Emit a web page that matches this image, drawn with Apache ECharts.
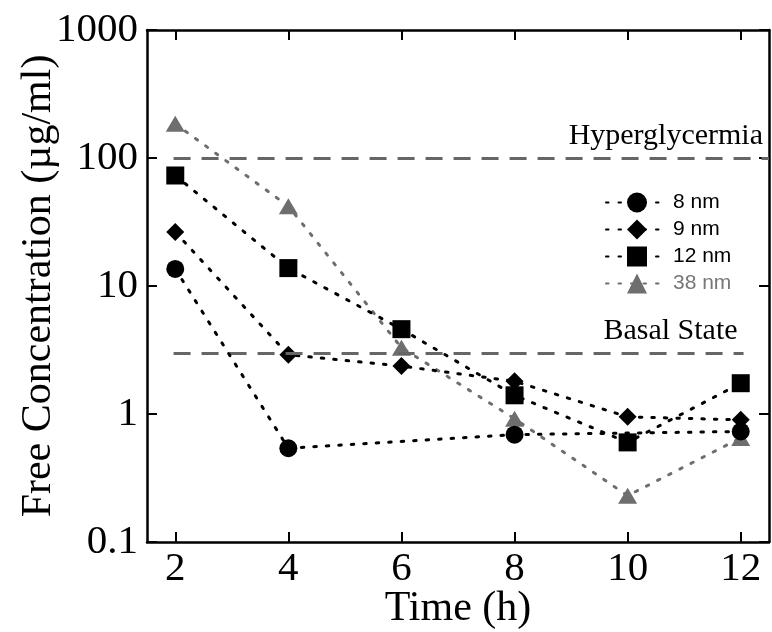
<!DOCTYPE html>
<html>
<head>
<meta charset="utf-8">
<script src="https://cdn.jsdelivr.net/npm/echarts@6/dist/echarts.min.js"></script>
<style>html,body{margin:0;padding:0;background:#fff}#c{width:772px;height:632px}</style>
</head>
<body>
<div id="c"></div>
<script>
const hours = [2, 4, 6, 8, 10, 12];
const xTicks = [2, 4, 6, 8, 10, 12];
const yTicks = [0.1, 1, 10, 100, 1000];
const nm8 = [13.6, 0.54, null, 0.69, null, 0.73];
const nm9 = [26.4, 2.9, 2.37, 1.8, 0.95, 0.9];
const nm12 = [73, 13.8, 4.6, 1.4, 0.6, 1.74];
const nm38 = [185, 42, 3.3, 0.92, 0.23, 0.65];
const hyperLevel = 100;
const basalLevel = 3;

function pairs(vals) {
  const out = [];
  hours.forEach((h, i) => { if (vals[i] != null) out.push([h, vals[i]]); });
  return out;
}

const serif = '"Liberation Serif", "Times New Roman", serif';
const sans = '"Liberation Sans", Arial, sans-serif';
const dotted = [2.5, 10];

function mk(name, vals, symbol, size, color, z) {
  return {
    name, type: 'line', data: pairs(vals), symbol, symbolSize: size,
    z,
    itemStyle: { color, borderWidth: 0 },
    lineStyle: { color, width: 3, type: dotted, cap: 'round' },
    emphasis: { disabled: true }, animation: false
  };
}

const chart = echarts.init(document.getElementById('c'));
chart.setOption({
  animation: false,
  grid: { left: 147, right: 3, top: 30, bottom: 90, outerBoundsMode: 'none', containLabel: false },
  legend: {
    left: 600, top: 187, orient: 'vertical',
    itemWidth: 62, itemHeight: 25, itemGap: 6,
    data: [
      { name: '8 nm', textStyle: { color: '#000' } },
      { name: '9 nm', textStyle: { color: '#000' } },
      { name: '12 nm', textStyle: { color: '#000' } },
      { name: '38 nm', textStyle: { color: '#777' } }
    ],
    textStyle: { fontFamily: sans, fontSize: 21 }
  },
  xAxis: [{
    type: 'value', min: 1.5, max: 12.5,
    name: 'Time (h)', nameLocation: 'middle', nameGap: 46, nameMoveOverlap: false,
    nameTextStyle: { fontFamily: serif, fontSize: 42, color: '#000' },
    axisLine: { lineStyle: { color: '#000', width: 2.5 } },
    axisTick: { inside: true, length: 10, lineStyle: { width: 2, color: '#000' }, customValues: xTicks },
    axisLabel: { fontFamily: serif, fontSize: 41, color: '#000', margin: 7, customValues: xTicks },
    splitLine: { show: false }
  }, {
    type: 'value', min: 1.5, max: 12.5, position: 'top',
    axisLine: { lineStyle: { color: '#000', width: 2.5 } },
    axisTick: { inside: true, length: 10, lineStyle: { width: 2, color: '#000' }, customValues: xTicks },
    axisLabel: { show: false }, splitLine: { show: false }
  }],
  yAxis: [{
    type: 'log', logBase: 10, min: 0.1, max: 1000,
    name: 'Free Concentration (µg/ml)', nameLocation: 'middle', nameGap: 87, nameMoveOverlap: false,
    nameTextStyle: { fontFamily: serif, fontSize: 42, color: '#000' },
    axisLine: { lineStyle: { color: '#000', width: 2.5 } },
    axisTick: { inside: true, length: 10, lineStyle: { width: 2, color: '#000' }, customValues: yTicks },
    axisLabel: { fontFamily: serif, fontSize: 41, color: '#000', margin: 9, customValues: yTicks,
      formatter: v => String(v) },
    minorTick: { show: false },
    splitLine: { show: false }
  }, {
    type: 'log', logBase: 10, min: 0.1, max: 1000, position: 'right',
    axisLine: { lineStyle: { color: '#000', width: 2.5 } },
    axisTick: { inside: true, length: 10, lineStyle: { width: 2, color: '#000' }, customValues: yTicks },
    axisLabel: { show: false }, splitLine: { show: false }
  }],
  series: [
    {
      name: 'ref', type: 'line', data: [], z: 1,
      markLine: {
        silent: true, symbol: 'none', animation: false,
        lineStyle: { color: '#666', width: 3, type: [17, 11] },
        label: { show: true, position: 'insideEndTop', fontFamily: serif, fontSize: 30, color: '#000', distance: [6, 7] },
        data: [
          [{ coord: [1.97, hyperLevel] }, { coord: [12.5, hyperLevel], label: { formatter: 'Hyperglycermia' } }],
          [{ coord: [1.97, basalLevel] }, { coord: [12.05, basalLevel], label: { formatter: 'Basal State' } }]
        ]
      }
    },
    mk('38 nm', nm38, 'triangle', [19, 16], '#6e6e6e', 2),
    mk('9 nm', nm9, 'diamond', 18, '#000', 3),
    mk('12 nm', nm12, 'rect', 18, '#000', 4),
    mk('8 nm', nm8, 'circle', 18, '#000', 5)
  ]
});
</script>
</body>
</html>
